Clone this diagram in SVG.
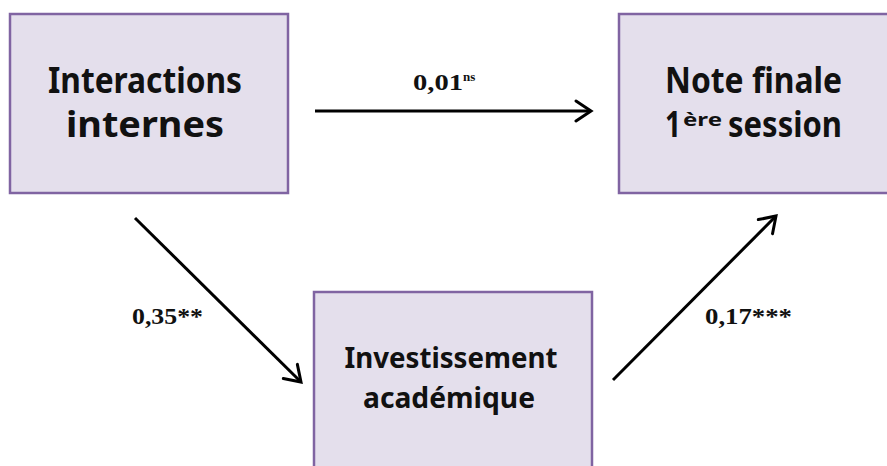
<svg xmlns="http://www.w3.org/2000/svg" width="887" height="466" viewBox="0 0 887 466">
<style>
.box{fill:#E4DFEC;stroke:#8064A2;stroke-width:2.5}
.t{font-family:"Noto Sans","Open Sans",sans-serif;font-weight:bold;fill:#111}
.lbl{font-family:"Liberation Serif","Times New Roman",serif;font-weight:bold;font-size:23px;fill:#111}
.con{stroke:#000;stroke-width:3;fill:none;marker-end:url(#ah)}
</style>
<defs>
<marker id="ah" markerUnits="userSpaceOnUse" viewBox="-18 -12 22 24" refX="0" refY="0" markerWidth="22" markerHeight="24" orient="auto">
<polyline points="-15,-10 0,0 -15,10" fill="none" stroke="#000" stroke-width="3" stroke-linecap="round" stroke-linejoin="miter"/>
</marker>
</defs>
<rect width="887" height="466" fill="#fff"/>
<g id="node-interactions">
<rect class="box" x="10" y="14" width="278" height="179"/>
<text class="t" x="145" y="93" font-size="35" text-anchor="middle" textLength="194" lengthAdjust="spacingAndGlyphs">Interactions</text>
<text class="t" x="145" y="137" font-size="35" text-anchor="middle" textLength="158" lengthAdjust="spacingAndGlyphs">internes</text>
</g>
<g id="node-note">
<rect class="box" x="619" y="14" width="280" height="179"/>
<text class="t" x="665" y="93" font-size="35" textLength="177" lengthAdjust="spacingAndGlyphs">Note finale</text>
<text class="t" x="665" y="137" font-size="35" textLength="16" lengthAdjust="spacingAndGlyphs">1</text>
<text class="t" x="683" y="126" font-size="17" font-weight="normal" textLength="39" lengthAdjust="spacingAndGlyphs">ère</text>
<text class="t" x="728" y="137" font-size="35" textLength="114" lengthAdjust="spacingAndGlyphs">session</text>
</g>
<g id="node-investissement">
<rect class="box" x="314" y="292" width="278" height="190"/>
<text class="t" x="451" y="368" font-size="28" text-anchor="middle" textLength="213" lengthAdjust="spacingAndGlyphs">Investissement</text>
<text class="t" x="449" y="408" font-size="28" text-anchor="middle" textLength="172" lengthAdjust="spacingAndGlyphs">académique</text>
</g>
<g id="connectors">
<line class="con" x1="315" y1="111" x2="591" y2="111"/>
<line class="con" x1="135" y1="218" x2="301" y2="382"/>
<line class="con" x1="613" y1="380" x2="776" y2="216"/>
<text class="lbl" x="413" y="90"><tspan textLength="50" lengthAdjust="spacingAndGlyphs">0,01</tspan><tspan font-size="13" dy="-9">ns</tspan></text>
<text class="lbl" x="132" y="324" textLength="71" lengthAdjust="spacingAndGlyphs">0,35**</text>
<text class="lbl" x="705" y="324" textLength="87" lengthAdjust="spacingAndGlyphs">0,17***</text>
</g>
</svg>
